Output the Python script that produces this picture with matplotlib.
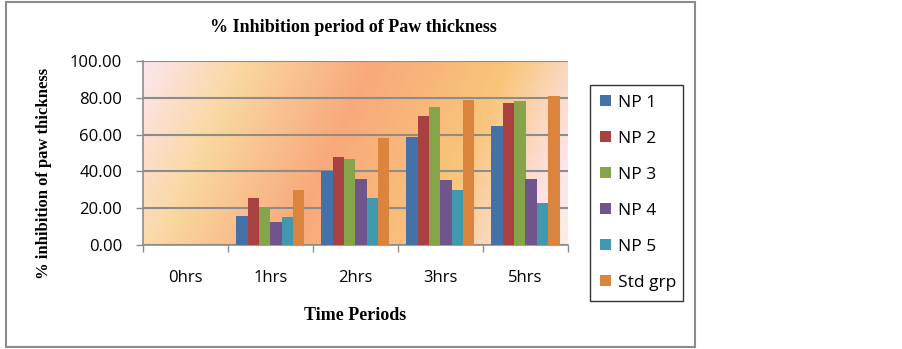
import numpy as np
import matplotlib.pyplot as plt
from matplotlib.colors import LinearSegmentedColormap
from matplotlib.patches import Rectangle

# datos
periodos = ['0hrs', '1hrs', '2hrs', '3hrs', '5hrs']
np1 = [0, 15.8, 40.0, 58.7, 64.7]
np2 = [0, 25.4, 47.8, 69.9, 77.4]
np3 = [0, 20.5, 46.7, 75.2, 78.5]
np4 = [0, 12.4, 35.8, 35.4, 35.8]
np5 = [0, 15.1, 25.6, 30.0, 22.9]
std = [0, 30.0, 58.1, 79.0, 81.2]
series = ['NP 1', 'NP 2', 'NP 3', 'NP 4', 'NP 5', 'Std grp']
colores = ['#4472A8', '#A94140', '#86A44A', '#70558D', '#4198AF', '#DB843D']
yticks = [0, 20, 40, 60, 80, 100]

fig = plt.figure(figsize=(9.03, 3.49), dpi=100)
ax = fig.add_axes([143/903, 1 - 245/349, 425/903, 184/349])

# fondo degradado del area de trazado
fondo = LinearSegmentedColormap.from_list('fondo', [
    (0.0, '#FCE6EE'), (0.2, '#FAD7A0'), (0.45, '#F8A97B'),
    (0.72, '#F9C57A'), (0.92, '#FCE4EC'), (1.0, '#FCEFDF')])
u = np.linspace(0, 1, 400)
v = np.linspace(0, 1, 200)
U, V = np.meshgrid(u, v)
t = (U + 0.2 * V) / 1.2
ax.imshow(t, cmap=fondo, extent=[0, 1, 0, 1], transform=ax.transAxes,
          aspect='auto', origin='upper', zorder=0)

x = np.arange(len(periodos))
ancho = 0.8 / 6
datos = [np1, np2, np3, np4, np5, std]
for i, (vals, nombre, c) in enumerate(zip(datos, series, colores)):
    ax.bar(x - 0.4 + ancho * (i + 0.5), vals, ancho, color=c, label=nombre,
           linewidth=0, zorder=3)

ax.set_xlim(-0.5, 4.5)
ax.set_ylim(0, 100)
ax.set_yticks(yticks)
ax.set_yticklabels(['%.2f' % y for y in yticks], fontsize=12, family='Open Sans')
ax.yaxis.grid(True, color='#8c8c8c', linewidth=1.5, zorder=1)
ax.set_axisbelow(False)
ax.set_xticks(np.arange(-0.5, 5, 1))
ax.set_xticklabels([])
ax.set_xticks(x, minor=True)
ax.set_xticklabels(periodos, minor=True, fontsize=12, family='Open Sans')
ax.tick_params(axis='x', which='minor', length=0, pad=18)
ax.tick_params(axis='x', which='major', length=5, color='#8c8c8c', width=1)
ax.tick_params(axis='y', length=5, color='#8c8c8c', width=1, pad=10)
for s in ['top', 'right']:
    ax.spines[s].set_visible(False)
for s in ['left', 'bottom']:
    ax.spines[s].set_color('#8c8c8c')
    ax.spines[s].set_linewidth(1.2)

ax.set_xlabel('Time Periods', family='Liberation Serif', fontweight='bold',
              fontsize=13, labelpad=15)
ax.set_ylabel('% inhibition of paw thickness', family='Liberation Serif',
              fontweight='bold', fontsize=12)
ax.yaxis.set_label_coords(-0.215, 0.39)
fig.text(353/903, 1 - 27/349, '% Inhibition period of Paw thickness',
         family='Liberation Serif', fontweight='bold', fontsize=13,
         ha='center', va='center')

leg = ax.legend(loc='center', bbox_to_anchor=(590/903, 1 - 300/349, 93/903, 214/349),
                bbox_transform=fig.transFigure, mode='expand', frameon=True,
                fancybox=False, edgecolor='black', labelspacing=1.15,
                handlelength=0.6, handleheight=0.6, handletextpad=0.4,
                prop={'family': 'Open Sans', 'size': 12.5}, borderpad=0.6,
                borderaxespad=0)
leg.get_frame().set_linewidth(1.0)

# marco exterior
fig.patches.append(Rectangle((6/903, 2/349), 689/903, 345/349, transform=fig.transFigure,
                             fill=False, edgecolor='#8c8c8c', linewidth=1.5))

fig.savefig('out.png', dpi=100)
